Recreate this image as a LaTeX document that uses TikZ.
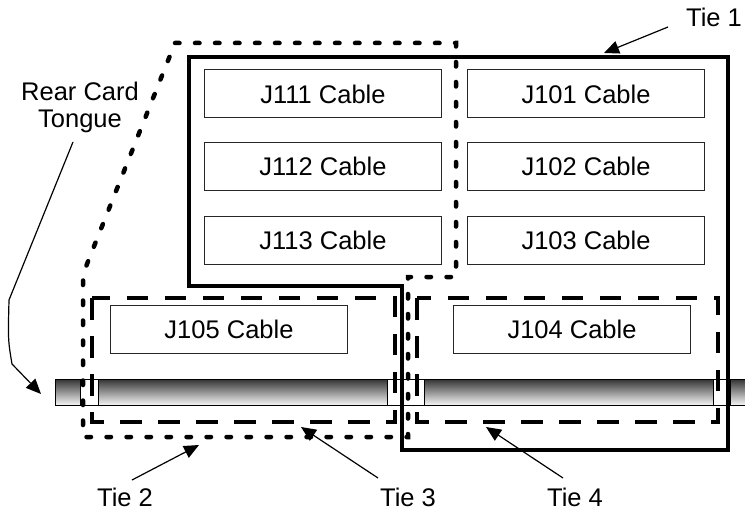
\documentclass[tikz,border=0pt]{standalone}
\usepackage{fontspec}
\setmainfont{Liberation Sans}
\usetikzlibrary{arrows.meta}
\begin{document}
\begin{tikzpicture}[x=1pt,y=-1pt,
  cable/.style={draw=black!85,line width=1pt,minimum width=237pt,minimum height=48pt,inner sep=0pt,font=\fontsize{25.5}{29}\selectfont},
  lbl/.style={font=\fontsize{25.5}{27}\selectfont,inner sep=0pt},
  tiesolid/.style={line width=4pt,miter limit=10},
  tiedash/.style={line width=4pt,dash pattern=on 21.5pt off 16.5pt},
  tiedot/.style={line width=4.5pt,line cap=round,dash pattern=on 4.5pt off 15.5pt},
  pointer/.style={line width=1.2pt,-{Triangle[length=15pt,width=13pt]}},
  gapbox/.style={fill=white,draw=black,line width=0.6pt}
]
\useasboundingbox (0,0) rectangle (745,511);
% rail
\shade[top color=black!80,middle color=black!45,bottom color=black!4] (55,379) rectangle (746,405);
\draw[line width=1pt] (746,379) -- (55,379) -- (55,405) -- (746,405);
\draw[gapbox] (80,379) rectangle (98,405);
\draw[gapbox] (387,379) rectangle (424,405);
\draw[gapbox] (713,379) rectangle (730,405);
% cable boxes
\node[cable] (j111) at (323,94) {J111 Cable};
\node[cable] (j112) at (323,166) {J112 Cable};
\node[cable] (j113) at (323,240) {J113 Cable};
\node[cable] (j101) at (586,94) {J101 Cable};
\node[cable] (j102) at (586,166) {J102 Cable};
\node[cable] (j103) at (586,240) {J103 Cable};
\node[cable] (j105) at (229,329) {J105 Cable};
\node[cable] (j104) at (572,329) {J104 Cable};
% ties
\draw[tiesolid] (189,57) -- (728,57) -- (728,450) -- (402,450) -- (402,286) -- (189,286) -- cycle;
\draw[tiedash] (92,298) rectangle (395,422);
\draw[tiedash] (417,298) rectangle (718,422);
\draw[tiedot] (175,43) -- (456,43) -- (456,277) -- (408,277) -- (408,437) -- (83,437) -- (83,288) .. controls (83,276) .. (87,264) -- cycle;
% labels
\node[lbl,anchor=base] (t1) at (714,27) {Tie 1};
\node[lbl,anchor=base] (t2) at (125,506) {Tie 2};
\node[lbl,anchor=base] (t3) at (408,506) {Tie 3};
\node[lbl,anchor=base] (t4) at (575,506) {Tie 4};
\node[lbl,align=center] (rc) at (80,107) {Rear Card\\Tongue};
% pointers
\coordinate (a1s) at (668,27); \coordinate (a1e) at (604,53);
\coordinate (a2s) at (132,480); \coordinate (a2e) at (199,445);
\coordinate (a3s) at (378,478); \coordinate (a3e) at (301,427);
\coordinate (a4s) at (563,478); \coordinate (a4e) at (486,427);
\coordinate (rcs) at (73,142); \coordinate (rce) at (41,394);
\draw[pointer] (a1s) -- (a1e);
\draw[pointer] (a2s) -- (a2e);
\draw[pointer] (a3s) -- (a3e);
\draw[pointer] (a4s) -- (a4e);
\draw[pointer] (rcs) -- (9,300) .. controls (8,340) .. (12,364) -- (rce);
\end{tikzpicture}
\end{document}
